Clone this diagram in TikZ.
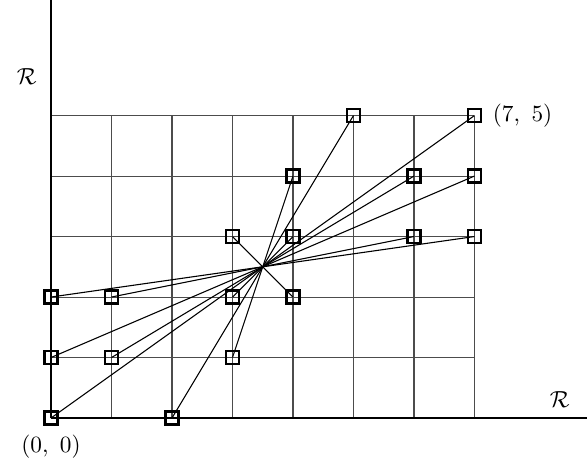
\documentclass[tikz,border=0pt]{standalone}
\begin{document}
\begin{tikzpicture}[x=1cm,y=1cm,
  gridline/.style={draw=black!70, line width=0.5pt},
  axisline/.style={draw=black, line width=0.6pt},
  ray/.style={draw=black, line width=0.5pt},
  pt/.style={draw=black, line width=1.2pt, minimum size=0.22cm, inner sep=0pt, rectangle},
  lab/.style={font=\fontsize{11}{13}\selectfont}]
\useasboundingbox (-0.843,-0.893) rectangle (8.86,6.91);
% grid
\foreach \y in {1,...,5} \draw[gridline] (0,\y) -- (7,\y);
\foreach \x in {1,...,7} \draw[gridline] (\x,0) -- (\x,5);
% axes
\coordinate (xa0) at (0,0);
\coordinate (xa1) at (8.86,0);
\coordinate (ya1) at (0,6.91);
\draw[axisline] (xa0) -- (xa1);
\draw[axisline] (xa0) -- (ya1);
\node[lab] (rl) at (-0.40,5.65) {$\mathcal{R}$};
\node[lab] (rb) at (8.41,0.30) {$\mathcal{R}$};
% center
\coordinate (c) at (3.5,2.5);
\foreach \px/\py [count=\i] in {0/0,2/0,0/1,1/1,3/1,0/2,1/2,3/2,4/2,3/3,4/3,6/3,7/3,4/4,6/4,7/4,5/5,7/5} {
  \coordinate (p\i) at (\px,\py);
  \draw[ray] (c) -- (p\i);
  \node[pt] (s\i) at (p\i) {};
}
\node[lab, anchor=west] (l75) at (7.18,5) {$(7,\ 5)$};
\node[lab] (l00) at (0,-0.48) {$(0,\ 0)$};
\end{tikzpicture}
\end{document}
